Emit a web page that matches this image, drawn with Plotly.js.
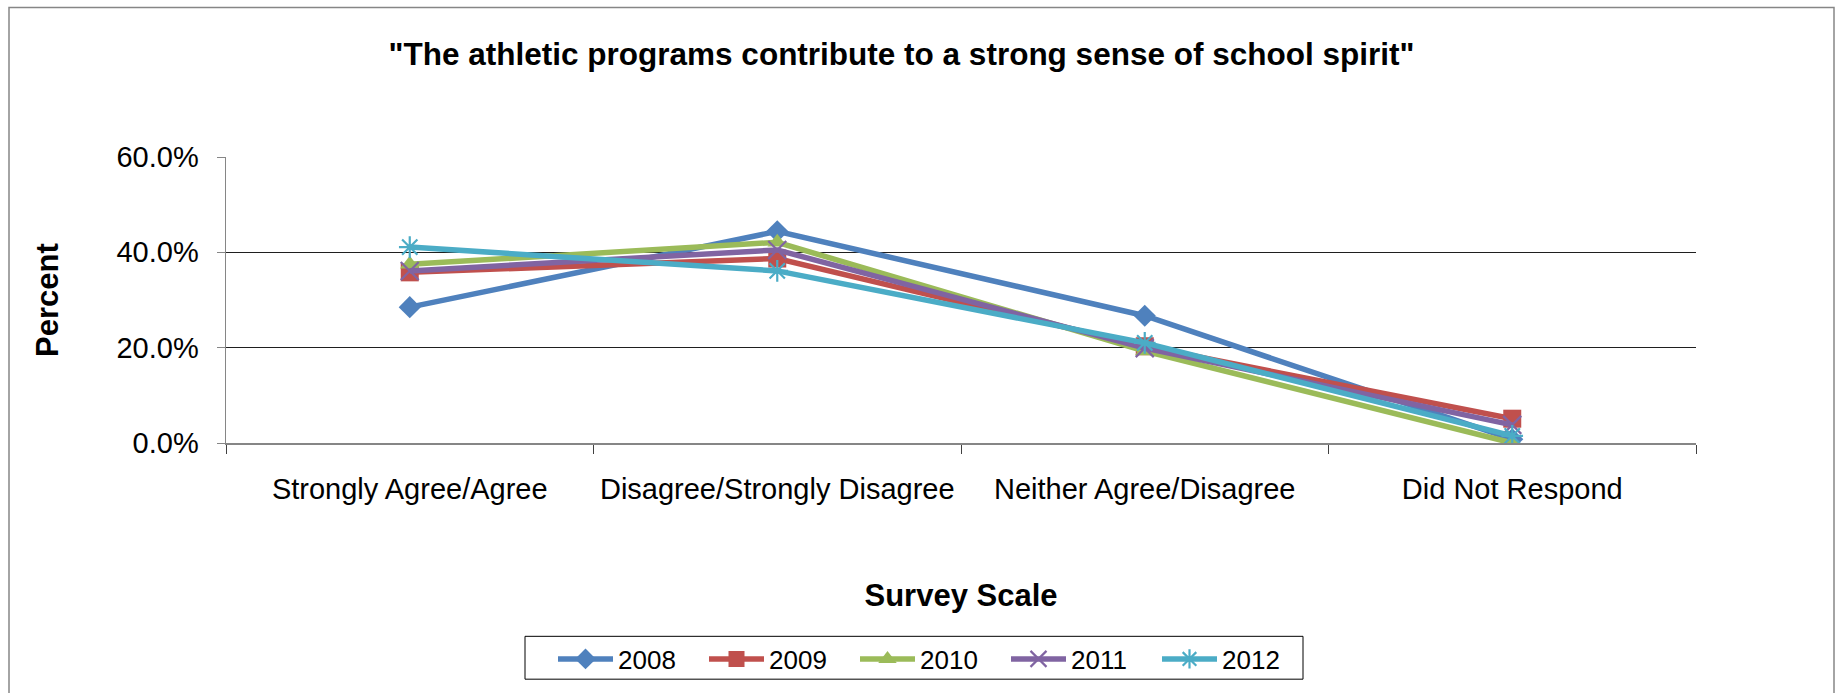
<!DOCTYPE html>
<html>
<head>
<meta charset="utf-8">
<script src="https://cdn.plot.ly/plotly-3.0.1.min.js"></script>
<style>
  html, body { margin: 0; padding: 0; background: #fff; }
  #chart { width: 1841px; height: 693px; }
</style>
</head>
<body>
<div id="chart"></div>
<script>
const categories = ["Strongly Agree/Agree", "Disagree/Strongly Disagree", "Neither Agree/Disagree", "Did Not Respond"];
const years = ["2008", "2009", "2010", "2011", "2012"];
const v2008 = [0.285, 0.444, 0.267, 0.008];
const v2009 = [0.358, 0.387, 0.203, 0.051];
const v2010 = [0.375, 0.421, 0.193, 0.000];
const v2011 = [0.361, 0.405, 0.199, 0.038];
const v2012 = [0.411, 0.361, 0.210, 0.015];
const yTickVals = [0, 0.2, 0.4, 0.6];
const yTickText = ["0.0%", "20.0%", "40.0%", "60.0%"];

const seriesValues = [v2008, v2009, v2010, v2011, v2012];
const colors = ["#4F81BD", "#C0504D", "#9BBB59", "#8064A2", "#4BACC6"];
const symbols = ["diamond", "square", "triangle-up", "x-thin-open", "asterisk-open"];
const sizes = [17, 18, 17, 18, 18];

const FONT = "Liberation Sans, Arial, sans-serif";

const traces = years.map((yr, i) => ({
  type: "scatter",
  mode: "lines+markers",
  name: yr,
  x: categories,
  y: seriesValues[i],
  line: { color: colors[i], width: 5.5 },
  marker: {
    symbol: symbols[i],
    size: sizes[i],
    color: colors[i],
    line: { color: colors[i], width: (i >= 3 ? 2.2 : 0) }
  }
}));

const L = 226, R = 145, T = 157, B = 249;
const W = 1841, H = 693;
const pw = W - L - R, ph = H - T - B;
const px = (X) => (X - L) / pw;
const py = (Y) => (H - B - Y) / ph;

const layout = {
  width: W,
  height: H,
  margin: { l: L, r: R, t: T, b: B, pad: 0 },
  paper_bgcolor: "#ffffff",
  plot_bgcolor: "#ffffff",
  font: { family: FONT, color: "#000000", size: 29 },
  title: {
    text: "<b>\"The athletic programs contribute to a strong sense of school spirit\"</b>",
    font: { family: FONT, size: 31.5, color: "#000000" },
    x: 901.5 / W,
    xanchor: "center",
    xref: "container",
    y: 1 - 54 / H,
    yref: "container",
    yanchor: "middle"
  },
  xaxis: {
    type: "category",
    range: [-0.5, 3.5],
    showgrid: false,
    zeroline: false,
    showline: true,
    linecolor: "#868686",
    linewidth: 1.5,
    ticks: "outside",
    tickson: "boundaries",
    ticklen: 9,
    tickcolor: "#404040",
    tickwidth: 1,
    tickfont: { family: FONT, size: 29, color: "#000000" },
    ticklabelstandoff: 20,
    title: {
      text: "<b>Survey Scale</b>",
      font: { family: FONT, size: 31, color: "#000000" },
      standoff: 80
    },
    fixedrange: true
  },
  yaxis: {
    range: [0, 0.6],
    tickvals: yTickVals,
    ticktext: yTickText,
    showgrid: true,
    gridcolor: "#1f1f1f",
    gridwidth: 1,
    zeroline: false,
    showline: true,
    linecolor: "#868686",
    linewidth: 1.5,
    ticks: "outside",
    ticklen: 8,
    tickcolor: "#868686",
    tickwidth: 1,
    tickfont: { family: FONT, size: 29, color: "#000000" },
    ticklabelstandoff: 12,
    title: {
      text: "<b>Percent</b>",
      font: { family: FONT, size: 31, color: "#000000" },
      standoff: 48
    },
    fixedrange: true
  },
  showlegend: true,
  legend: {
    orientation: "h",
    x: px(553),
    xanchor: "left",
    y: py(659),
    yanchor: "middle",
    borderwidth: 0,
    bgcolor: "rgba(0,0,0,0)",
    font: { family: FONT, size: 26, color: "#000000" },
    itemwidth: 55,
    entrywidth: 81,
    entrywidthmode: "pixels",
    itemsizing: "trace"
  },
  shapes: [{
    type: "rect",
    xref: "paper", yref: "paper",
    x0: px(9), x1: px(1834), y0: py(710), y1: py(7),
    line: { color: "#868686", width: 1.5 },
    fillcolor: "rgba(0,0,0,0)",
    layer: "below"
  }, {
    type: "rect",
    xref: "paper", yref: "paper",
    x0: px(525), x1: px(1303), y0: py(681), y1: py(638),
    line: { color: "#000000", width: 1 },
    fillcolor: "rgba(0,0,0,0)",
    layer: "below"
  }]
};

Plotly.newPlot("chart", traces, layout, { displayModeBar: false, staticPlot: true });
</script>
</body>
</html>
